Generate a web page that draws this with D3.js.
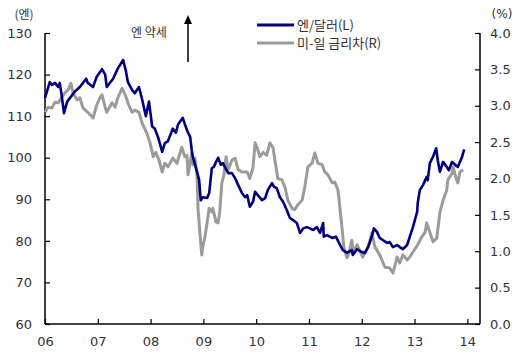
<!DOCTYPE html>
<html><head><meta charset="utf-8">
<script src="https://cdn.jsdelivr.net/npm/d3@7"></script>
<style>
body{margin:0;background:#fff;}
text{font-family:"DejaVu Sans","Noto Sans CJK KR",sans-serif;fill:#333;}
</style></head>
<body><svg id="c" width="523" height="359"></svg>
<script>
const yenT = [2006.00,2006.09,2006.13,2006.19,2006.25,2006.28,2006.32,2006.36,2006.42,2006.51,2006.57,2006.66,2006.78,2006.81,2006.91,2006.98,2007.08,2007.14,2007.17,2007.29,2007.38,2007.48,2007.53,2007.57,2007.65,2007.70,2007.78,2007.84,2007.91,2007.97,2008.03,2008.08,2008.14,2008.22,2008.27,2008.33,2008.42,2008.48,2008.52,2008.61,2008.65,2008.71,2008.75,2008.78,2008.80,2008.88,2008.92,2008.95,2008.99,2009.07,2009.11,2009.16,2009.20,2009.24,2009.28,2009.33,2009.37,2009.47,2009.54,2009.60,2009.66,2009.73,2009.79,2009.83,2009.88,2009.94,2009.98,2010.03,2010.11,2010.17,2010.22,2010.30,2010.34,2010.39,2010.45,2010.51,2010.58,2010.64,2010.70,2010.77,2010.83,2010.89,2010.96,2011.02,2011.08,2011.15,2011.21,2011.27,2011.28,2011.34,2011.44,2011.51,2011.59,2011.64,2011.72,2011.81,2011.83,2011.91,2012.00,2012.06,2012.12,2012.19,2012.23,2012.29,2012.34,2012.40,2012.48,2012.53,2012.59,2012.67,2012.72,2012.78,2012.86,2012.91,2012.97,2013.05,2013.06,2013.10,2013.16,2013.23,2013.25,2013.29,2013.35,2013.41,2013.44,2013.48,2013.54,2013.61,2013.65,2013.71,2013.77,2013.82,2013.90,2013.94];
const yenV = [114.4,118.2,117.5,118.0,117.0,118.0,114.6,110.7,113.5,115.0,116.0,117.0,119.0,118.0,117.0,119.5,121.3,120.0,117.0,119.0,121.5,123.5,121.0,118.2,116.3,115.5,117.0,114.0,110.0,113.5,107.5,107.0,105.0,101.4,103.5,104.0,107.0,106.0,108.0,109.6,108.0,106.0,105.0,101.8,100.2,96.6,94.6,89.8,90.5,90.3,91.5,97.5,97.8,99.0,100.0,98.3,98.7,96.3,96.3,95.1,93.4,91.5,90.5,91.0,88.2,89.4,91.8,91.0,89.8,90.3,92.2,93.9,93.0,92.7,90.5,89.4,87.4,85.5,85.0,84.3,81.9,83.0,83.3,83.0,82.6,83.3,81.9,84.3,81.0,81.4,80.7,81.0,79.0,77.8,77.1,77.8,76.6,78.0,77.3,77.1,78.5,81.0,83.0,82.1,80.7,80.2,79.5,79.7,78.5,79.0,78.5,78.0,79.0,81.0,83.3,87.0,89.1,92.2,93.4,95.4,94.6,98.7,100.2,102.3,99.4,96.6,99.0,97.8,97.0,99.0,98.3,97.8,100.2,102.0];
const spreadT = [2006.00,2006.06,2006.13,2006.19,2006.25,2006.32,2006.38,2006.44,2006.49,2006.53,2006.61,2006.66,2006.72,2006.81,2006.91,2006.98,2007.04,2007.08,2007.14,2007.17,2007.27,2007.33,2007.38,2007.46,2007.52,2007.57,2007.65,2007.70,2007.78,2007.84,2007.93,2007.99,2008.05,2008.10,2008.16,2008.22,2008.27,2008.33,2008.42,2008.50,2008.59,2008.65,2008.69,2008.71,2008.78,2008.80,2008.84,2008.88,2008.90,2008.94,2008.97,2008.99,2009.03,2009.07,2009.11,2009.16,2009.18,2009.24,2009.28,2009.31,2009.35,2009.39,2009.43,2009.47,2009.54,2009.60,2009.66,2009.73,2009.83,2009.88,2009.94,2009.98,2010.02,2010.07,2010.13,2010.20,2010.26,2010.32,2010.36,2010.41,2010.49,2010.55,2010.60,2010.68,2010.73,2010.79,2010.87,2010.92,2010.98,2011.06,2011.11,2011.17,2011.25,2011.30,2011.36,2011.44,2011.49,2011.55,2011.59,2011.63,2011.66,2011.72,2011.76,2011.81,2011.85,2011.91,2012.02,2012.12,2012.19,2012.25,2012.34,2012.44,2012.53,2012.59,2012.67,2012.72,2012.78,2012.86,2012.91,2012.97,2013.06,2013.14,2013.20,2013.23,2013.29,2013.35,2013.42,2013.48,2013.54,2013.61,2013.63,2013.71,2013.73,2013.78,2013.82,2013.86,2013.92];
const spreadV = [2.91,2.98,2.97,3.05,3.04,3.12,3.18,3.22,3.31,3.18,3.08,3.11,2.97,2.91,2.83,3.01,3.11,3.15,2.98,2.91,3.04,2.98,3.11,3.24,3.15,3.04,2.91,2.94,2.91,2.76,2.62,2.49,2.30,2.36,2.25,2.09,2.21,2.16,2.28,2.21,2.43,2.30,2.32,2.05,2.35,2.19,2.28,2.05,1.57,1.20,0.95,1.06,1.20,1.39,1.59,1.54,1.59,1.40,1.39,1.54,1.94,2.05,2.30,2.12,2.25,2.28,2.12,2.09,2.09,2.00,2.15,2.49,2.42,2.30,2.36,2.32,2.49,2.42,2.23,2.00,1.98,1.87,1.70,1.59,1.57,1.64,1.70,1.88,2.16,2.21,2.35,2.21,2.19,2.09,2.05,1.94,1.95,1.84,1.57,1.29,1.06,0.91,0.98,1.15,0.98,1.09,0.92,1.06,1.25,1.06,0.95,0.78,0.77,0.70,0.92,0.84,0.95,0.88,0.92,0.99,1.09,1.20,1.26,1.39,1.26,1.13,1.18,1.53,1.70,1.84,1.98,2.07,2.16,2.02,1.94,2.09,2.12];
const xTickLabels = ["06","07","08","09","10","11","12","13","14"];
const leftTicks = [60,70,80,90,100,110,120,130];
const rightTicks = [0.0,0.5,1.0,1.5,2.0,2.5,3.0,3.5,4.0];
const seriesNames = ["엔/달러(L)","미-일 금리차(R)"];

const svg = d3.select("#c");
const L = 45, R = 480, T = 33, B = 324;
const x = d3.scaleLinear().domain([2006, 2014.24]).range([L, R]);
const yL = d3.scaleLinear().domain([60, 130]).range([B, T]);
const yR = d3.scaleLinear().domain([0, 4]).range([B, T]);

const gx = svg.append("g").attr("transform",`translate(0,${B})`)
  .call(d3.axisBottom(x).tickValues(d3.range(2006,2015)).tickSize(-5).tickPadding(13)
    .tickFormat((d,i)=>xTickLabels[i]));
const gl = svg.append("g").attr("transform",`translate(${L},0)`)
  .call(d3.axisLeft(yL).tickValues(leftTicks).tickSize(-5).tickPadding(13).tickFormat(d3.format("d")));
const gr = svg.append("g").attr("transform",`translate(${R},0)`)
  .call(d3.axisRight(yR).tickValues(rightTicks).tickSize(-5).tickPadding(10).tickFormat(d3.format(".1f")));
[gx,gl,gr].forEach(g=>{
  g.selectAll("path.domain").attr("stroke","#000").attr("stroke-width",1.5);
  g.selectAll(".tick line").attr("stroke","#000").attr("stroke-width",1.2);
  g.selectAll("text").attr("font-size",13).attr("fill","#333").style("font-family","'DejaVu Sans',sans-serif");
});
gl.select("path.domain").attr("d",`M0,${T}V${B}`);
gr.select("path.domain").attr("d",`M0,${T}V${B}`);
gx.select("path.domain").attr("d",`M${L},0H${R}`);

const yenData = yenT.map((t,i)=>[t,yenV[i]]);
const spData = spreadT.map((t,i)=>[t,spreadV[i]]);
svg.append("path").datum(spData).attr("fill","none").attr("stroke","#9b9b9b").attr("stroke-width",3)
  .attr("stroke-linejoin","round")
  .attr("d", d3.line().x(d=>x(d[0])).y(d=>yR(d[1])));
svg.append("path").datum(yenData).attr("fill","none").attr("stroke","#000080").attr("stroke-width",2.6)
  .attr("stroke-linejoin","round")
  .attr("d", d3.line().x(d=>x(d[0])).y(d=>yL(d[1])));

// unit labels
svg.append("text").attr("x",24).attr("y",19).attr("text-anchor","middle").attr("font-size",12)
  .style("font-family","'Noto Sans CJK KR',sans-serif").text("(엔)");
svg.append("text").attr("x",502).attr("y",18).attr("text-anchor","middle").attr("font-size",12).text("(%)");

// annotation
svg.append("text").attr("x",149).attr("y",37).attr("text-anchor","middle").attr("font-size",12)
  .style("font-family","'Noto Sans CJK KR',sans-serif").text("엔 약세");
svg.append("line").attr("x1",188).attr("x2",188).attr("y1",62).attr("y2",22).attr("stroke","#000").attr("stroke-width",1.5);
svg.append("path").attr("d","M184,24 L188,15 L192,24 Z").attr("fill","#000");

// legend
const lg = svg.append("g");
const cols = ["#000080","#9b9b9b"];
seriesNames.forEach((n,i)=>{
  const yy = 25 + i*18;
  lg.append("line").attr("x1",257).attr("x2",294).attr("y1",yy).attr("y2",yy).attr("stroke",cols[i]).attr("stroke-width",3);
  lg.append("text").attr("x",297).attr("y",yy+5).attr("font-size",13)
    .style("font-family","'Noto Sans CJK KR',sans-serif").text(n);
});
</script></body></html>
